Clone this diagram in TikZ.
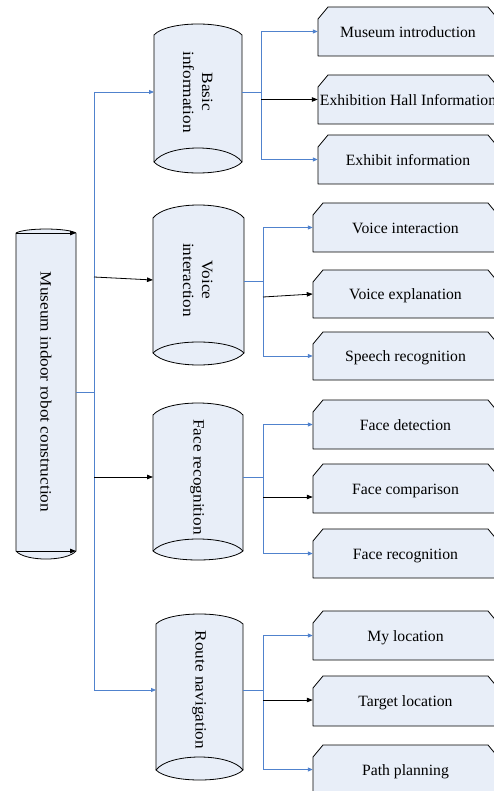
\documentclass[tikz,border=0pt]{standalone}
\usepackage{fontspec}
\setmainfont{Liberation Serif}
\usepackage{graphicx}
\usetikzlibrary{arrows.meta}
\definecolor{cfill}{RGB}{232,238,248}
\definecolor{lblue}{RGB}{80,130,205}
\tikzset{
  shapesty/.style={draw=black, fill=cfill, line width=0.8pt, line join=round},
  bline/.style={draw=lblue, line width=0.8pt},
  barrow/.style={bline, -{Triangle[length=5pt,width=4pt]}},
  karrow/.style={draw=black, line width=0.8pt, -{Triangle[length=6pt,width=4.5pt]}},
  vtext/.style={rotate=-90, inner sep=0pt, align=center, font=\fontsize{15.7}{19}\selectfont},
  boxtext/.style={inner sep=0pt, text height=11.6pt, text depth=0pt, font=\fontsize{15.7}{18}\selectfont},
}
% L R T Ta B Bi Bl
\newcommand\mycyl[7]{%
  \draw[shapesty] (#1,#3) .. controls ({#1+0.15*(#2-#1)},{#3-(#3-#4)*4/3}) and ({#2-0.15*(#2-#1)},{#3-(#3-#4)*4/3}) .. (#2,#3)
    -- (#2,#5) .. controls ({#2-0.15*(#2-#1)},{#5+(#7-#5)*4/3}) and ({#1+0.15*(#2-#1)},{#5+(#7-#5)*4/3}) .. (#1,#5) -- cycle;
  \draw[shapesty, fill=none] (#1,#5) .. controls ({#1+0.15*(#2-#1)},{#5-(#5-#6)*4/3}) and ({#2-0.15*(#2-#1)},{#5-(#5-#6)*4/3}) .. (#2,#5);
}
% name L T B text
\newcommand\mybox[5]{%
  \draw[shapesty] (#2,#4) -- (#2,{#3+12}) -- ({#2+10},#3) -- (488,#3) -- (498,{#3+12}) -- (498,#4) -- cycle;
  \node[boxtext, minimum width={498-#2}, minimum height={#4-#3}] (#1) at ({(#2+498)/2},{(#3+#4)/2}) {\makebox[0pt]{#5}};
}
\begin{document}
\begin{tikzpicture}[x=1pt,y=-1pt]
\useasboundingbox (0,0) rectangle (494,791);
\clip (0,0) rectangle (494,791);

% main cylinder
\draw[shapesty] (16,233) .. controls (25,227.7) and (67,227.7) .. (76,233) -- (76,551)
  .. controls (67,561.7) and (25,561.7) .. (16,551) -- cycle;
\coordinate (mA1) at (16,233); \coordinate (mA2) at (76,233);
\coordinate (mB1) at (16,551); \coordinate (mB2) at (76,551);
\draw[karrow] (mA1) -- (mA2);
\draw[karrow] (mB1) -- (mB2);
\node[vtext] (main) at (46,392) {\scalebox{1.1}[1]{Museum indoor robot construction}};

% second level cylinders
\mycyl{154}{242}{35}{24}{162}{148}{173}
\node[vtext] (basic) at (196.5,92) {\scalebox{1.1}[1]{\begin{tabular}{@{}c@{}}Basic\\information\end{tabular}}};
\mycyl{153}{244}{218}{205}{353}{342}{365}
\node[vtext] (voice) at (196.5,280) {\scalebox{1.1}[1]{\begin{tabular}{@{}c@{}}Voice\\interaction\end{tabular}}};
\mycyl{153}{243}{415}{403}{551}{539}{560}
\node[vtext] (face) at (197,477) {\scalebox{1.1}[1]{Face recognition}};
\mycyl{156}{243}{624}{614}{770}{757}{780}
\node[vtext] (route) at (199,690) {\scalebox{1.1}[1]{Route navigation}};

% leaf boxes
\mybox{b11}{318}{7}{56}{Museum introduction}
\mybox{b12}{318}{75}{124}{Exhibition Hall Information}
\mybox{b13}{318}{135}{184}{Exhibit information}
\mybox{b21}{313}{203}{252}{Voice interaction}
\mybox{b22}{313}{270}{318}{Voice explanation}
\mybox{b23}{313}{332}{380}{Speech recognition}
\mybox{b31}{313}{400}{449}{Face detection}
\mybox{b32}{313}{464}{513}{Face comparison}
\mybox{b33}{313}{529}{578}{Face recognition}
\mybox{b41}{313}{611}{660}{My location}
\mybox{b42}{313}{676}{726}{Target location}
\mybox{b43}{313}{745}{794}{Path planning}

% main trunk
\coordinate (mainE) at (76,392);
\coordinate (t0) at (94,392);
\coordinate (t0top) at (94,92);
\coordinate (t0bot) at (94,690);
\coordinate (t0v) at (94,277);
\coordinate (t0f) at (94,477);
\coordinate (basicW) at (154,92);
\coordinate (voiceW) at (153,280);
\coordinate (faceW) at (153,477);
\coordinate (routeW) at (156,690);
\draw[bline] (mainE) -- (t0);
\draw[bline] (t0top) -- (t0bot);
\draw[barrow] (t0top) -- (basicW);
\draw[karrow] (t0v) -- (voiceW);
\draw[karrow] (t0f) -- (faceW);
\draw[barrow] (t0bot) -- (routeW);

% basic sub
\coordinate (basicE) at (242,92);
\coordinate (s1) at (261,92);
\coordinate (s1top) at (261,31.5);
\coordinate (s1mid) at (261,99.5);
\coordinate (s1bot) at (261,159.5);
\draw[bline] (basicE) -- (s1);
\draw[bline] (s1top) -- (s1bot);
\draw[barrow] (s1top) -- (s1top -| b11.west);
\draw[karrow] (s1mid) -- (s1mid -| b12.west);
\draw[barrow] (s1bot) -- (s1bot -| b13.west);

% voice sub
\coordinate (voiceE) at (244,281);
\coordinate (s2) at (263,281);
\coordinate (s2top) at (263,227.5);
\coordinate (s2mid) at (263,297);
\coordinate (s2bot) at (263,356);
\draw[bline] (voiceE) -- (s2);
\draw[bline] (s2top) -- (s2bot);
\draw[barrow] (s2top) -- (s2top -| b21.west);
\draw[karrow] (s2mid) -- (b22.west);
\draw[barrow] (s2bot) -- (s2bot -| b23.west);

% face sub
\coordinate (faceE) at (243,477);
\coordinate (s3) at (263,477);
\coordinate (s3top) at (263,424.5);
\coordinate (s3mid) at (263,497);
\coordinate (s3bot) at (263,553.5);
\draw[bline] (faceE) -- (s3);
\draw[bline] (s3top) -- (s3bot);
\draw[barrow] (s3top) -- (s3top -| b31.west);
\draw[karrow] (s3mid) -- (s3mid -| b32.west);
\draw[barrow] (s3bot) -- (s3bot -| b33.west);

% route sub
\coordinate (routeE) at (243,690);
\coordinate (s4) at (263,690);
\coordinate (s4top) at (263,635.5);
\coordinate (s4mid) at (263,700);
\coordinate (s4bot) at (263,769.5);
\draw[bline] (routeE) -- (s4);
\draw[bline] (s4top) -- (s4bot);
\draw[barrow] (s4top) -- (s4top -| b41.west);
\draw[karrow] (s4mid) -- (s4mid -| b42.west);
\draw[barrow] (s4bot) -- (s4bot -| b43.west);
\end{tikzpicture}
\end{document}
